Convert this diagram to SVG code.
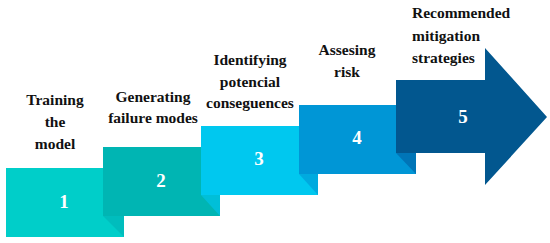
<svg xmlns="http://www.w3.org/2000/svg" width="550" height="243" viewBox="0 0 550 243">
<style>
.lbl{font-family:"Liberation Serif","Times New Roman",serif;font-weight:bold;font-size:15.5px;fill:#111;text-anchor:middle}
.num{font-family:"Liberation Serif","Times New Roman",serif;font-weight:bold;font-size:19px;fill:#fff;text-anchor:middle;dominant-baseline:central}
</style>
<rect width="550" height="243" fill="#fff"/>
<g id="step1">
<rect x="6" y="168" width="118" height="69" fill="#00CEC9"/>
<text class="num" x="64" y="201">1</text>
</g>
<g id="step2">
<polygon points="103,216 124,216 124,237" fill="#00BDBD"/>
<rect x="103" y="147" width="117" height="69" fill="#00B5B3"/>
<text class="num" x="161" y="180">2</text>
</g>
<g id="step3">
<polygon points="201,195 220,195 220,216" fill="#00BFD8"/>
<rect x="201" y="126" width="117" height="69" fill="#00C8EF"/>
<text class="num" x="259" y="158">3</text>
</g>
<g id="step4">
<polygon points="299,174 318,174 318,195" fill="#00AADF"/>
<rect x="299" y="105" width="117" height="69" fill="#0096D6"/>
<text class="num" x="357" y="137">4</text>
</g>
<g id="step5">
<polygon points="396,153 416,153 416,174" fill="#0075B7"/>
<polygon points="396,80 485,80 485,48 547,117 485,185 485,153 396,153" fill="#02578F"/>
<text class="num" x="463" y="116">5</text>
</g>
<g id="labels">
<text class="lbl" x="55" y="105">Training</text>
<text class="lbl" x="55" y="127">the</text>
<text class="lbl" x="55" y="149">model</text>
<text class="lbl" x="153" y="102">Generating</text>
<text class="lbl" x="153" y="123">failure modes</text>
<text class="lbl" x="250" y="65">Identifying</text>
<text class="lbl" x="250" y="87">potencial</text>
<text class="lbl" x="250" y="108">conseguences</text>
<text class="lbl" x="347" y="55">Assesing</text>
<text class="lbl" x="347" y="77">risk</text>
<text class="lbl" x="412" y="18" style="text-anchor:start">Recommended</text>
<text class="lbl" x="412" y="40.5" style="text-anchor:start">mitigation</text>
<text class="lbl" x="412" y="63" style="text-anchor:start">strategies</text>
</g>
<g id="connectors"></g>
</svg>
